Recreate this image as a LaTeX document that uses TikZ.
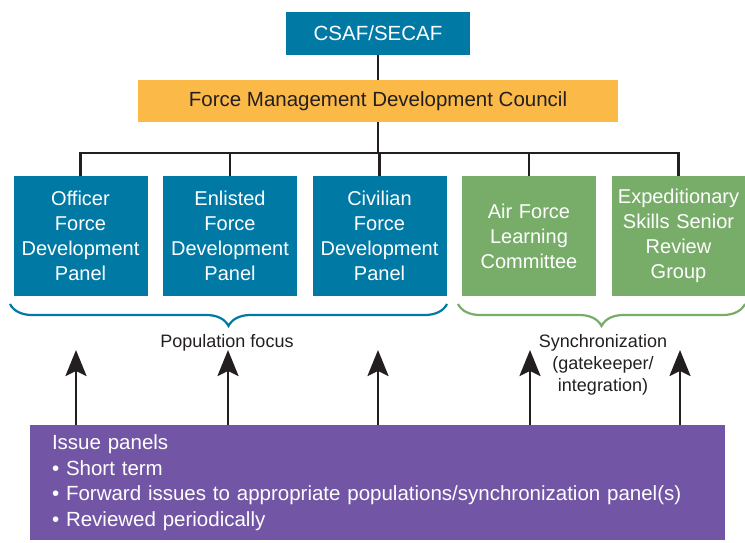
\documentclass[tikz,border=0pt]{standalone}
\usepackage{fontspec}
\setmainfont{Liberation Sans}
\usetikzlibrary{positioning,arrows.meta,decorations.pathreplacing}

\definecolor{afblue}{HTML}{0079A5}
\definecolor{afgold}{HTML}{FBBA48}
\definecolor{afgreen}{HTML}{78AD69}
\definecolor{afpurple}{HTML}{7256A5}
\definecolor{afink}{HTML}{231F20}

\begin{document}
\begin{tikzpicture}[x=1pt, y=-1pt, node distance=149.5pt]
  \tikzstyle{panel} = [rectangle, fill=afblue, text=white, minimum width=134pt,
  minimum height=120pt, inner sep=0pt, text width=132pt, align=center,
  font=\fontsize{20}{25}\selectfont]
  \tikzstyle{sync} = [panel, fill=afgreen]
  \tikzstyle{link} = [draw=afink, line width=2.3pt]
  \tikzstyle{feed} = [draw=afink, line width=2.5pt,
  -{Stealth[width=21pt,length=26pt,inset=5pt]}]
  \tikzstyle{bracket} = [line width=2.2pt, decorate,
  decoration={brace, mirror, amplitude=22pt, aspect=0.5}]

  \useasboundingbox (0,0) rectangle (745,543);

  % Define nodes
  \node[rectangle, fill=afblue, text=white, minimum width=184pt, minimum height=43pt,
  font=\fontsize{20.5}{24}\selectfont] (csaf) at (378,33.5) {CSAF/SECAF};
  \node[rectangle, fill=afgold, text=afink, minimum width=480pt, minimum height=42pt,
  font=\fontsize{20.5}{24}\selectfont] (fmdc) at (378,101) {Force Management Development Council};

  \node[panel] (ofdp) at (80.5,236) {Officer\\Force\\Development\\Panel};
  \node[panel, right of=ofdp] (efdp) {Enlisted\\Force\\Development\\Panel};
  \node[panel, right of=efdp] (cfdp) {Civilian\\Force\\Development\\Panel};
  \node[sync, right of=cfdp] (aflc) {Air Force\\Learning\\Committee};
  \node[sync, right of=aflc] (essr) {Expeditionary\\Skills Senior\\Review\\Group};

  \node[rectangle, fill=afpurple, text=white, minimum width=695pt, minimum height=115pt,
  inner sep=0pt, text width=651pt, align=left,
  font=\fontsize{20.5}{25.5}\selectfont] (issues) at (377.5,482.5)
  {Issue panels\\
   \textbullet\ Short term\\
   \textbullet\ Forward issues to appropriate populations/synchronization panel(s)\\
   \textbullet\ Reviewed periodically};

  % Reporting lines
  \coordinate (bus) at (378,153);
  \path[link] (csaf) -- (fmdc);
  \path[link] (fmdc) -- (bus);
  \foreach \p in {ofdp, efdp, cfdp, aflc, essr}
    \path[link] (bus) -| (\p.north);

  % Braces and their labels
  \draw[bracket, afblue] (10,304) -- (447,304);
  \draw[bracket, afgreen] (458,304) -- (745,304);
  \node[text=afink, font=\fontsize{18}{22}\selectfont] (popf) at (227,343) {Population focus};
  \node[text=afink, align=center, font=\fontsize{18}{22}\selectfont] (synch) at (603,365)
  {Synchronization\\(gatekeeper/\\integration)};

  % Issue feeds
  \foreach \x [count=\i] in {76, 228, 378, 530, 680} {
    \coordinate (tip\i) at (\x,350);
    \path[feed] (issues.north -| tip\i) -- (tip\i);
  }
\end{tikzpicture}
\end{document}
